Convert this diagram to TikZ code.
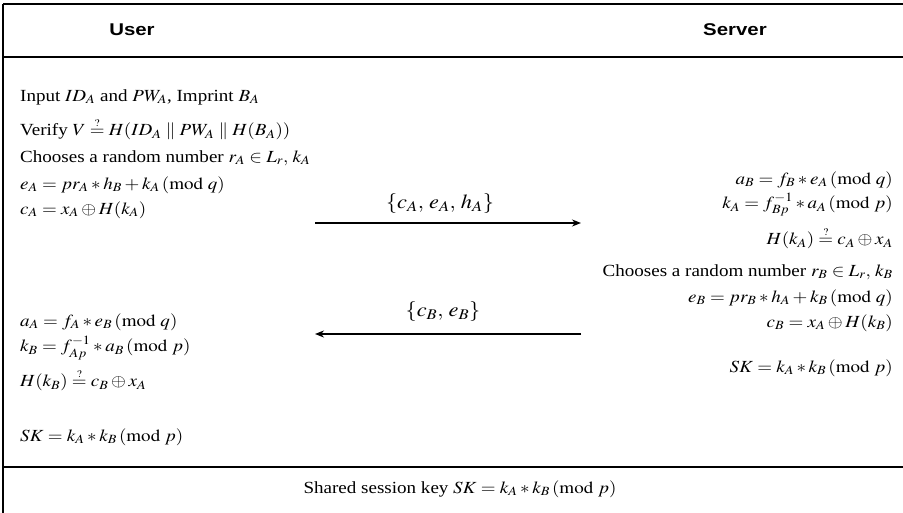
\documentclass[tikz,border=0pt]{standalone}
\usepackage{amsmath}
\usepackage{mathptmx}
\usepackage{graphicx}
\usepackage{fontspec}
\setmainfont{Liberation Serif}
\newfontfamily\headfont{Liberation Sans}
\usetikzlibrary{arrows.meta, positioning}

\newcommand{\mymod}[1]{\,(\mathrm{mod}\ #1)}
\newcommand{\qeq}{\overset{\scriptscriptstyle ?}{=}}
\newcommand{\wide}[1]{\scalebox{1.12}[1]{#1}}

\begin{document}
\begin{tikzpicture}[x=1pt, y=-1pt, >={Stealth[length=9pt, width=7pt]},
  lline/.style={anchor=west, inner sep=0pt, font=\fontsize{17}{20}\selectfont},
  rline/.style={anchor=east, inner sep=0pt, font=\fontsize{17}{20}\selectfont},
  msglabel/.style={inner sep=0pt, font=\fontsize{20}{24}\selectfont},
  head/.style={inner sep=0pt, font=\headfont\bfseries\fontsize{17}{20}\selectfont},
  msg/.style={->, line width=2.2pt}]
\useasboundingbox (0,0) rectangle (903,513);

% frame
\draw[line width=2pt] (3,4) -- (910,4);
\draw[line width=1.5pt] (3,4) -- (3,520);
\draw[line width=2pt] (3,57) -- (910,57);
\draw[line width=2pt] (3,467) -- (910,467);

% header
\node[head] (user) at (132,30) {\scalebox{1.2}[1]{User}};
\node[head] (server) at (735,30) {\scalebox{1.2}[1]{Server}};

% user side
\node[lline] (u1) at (20,97) {\wide{Input $ID_A$ and $PW_A$, Imprint $B_A$}};
\node[lline] (u2) at (20,129) {\wide{Verify $V \qeq H(ID_A \parallel PW_A \parallel H(B_A))$}};
\node[lline] (u3) at (20,158) {\wide{Chooses a random number $r_A \in L_r,\, k_A$}};
\node[lline] (u4) at (20,185) {\wide{$e_A = pr_A * h_B + k_A \mymod{q}$}};
\node[lline] (u5) at (20,210) {\wide{$c_A = x_A \oplus H(k_A)$}};

\node[lline] (u6) at (20,322) {\wide{$a_A = f_A * e_B \mymod{q}$}};
\node[lline] (u7) at (20,348) {\wide{$k_B = f_{Ap}^{-1} * a_B \mymod{p}$}};
\node[lline] (u8) at (20,380) {\wide{$H(k_B) \qeq c_B \oplus x_A$}};
\node[lline] (u9) at (20,437) {\wide{$SK = k_A * k_B \mymod{p}$}};

% server side
\node[rline] (s1) at (893,180) {\wide{$a_B = f_B * e_A \mymod{q}$}};
\node[rline] (s2) at (893,205) {\wide{$k_A = f_{Bp}^{-1} * a_A \mymod{p}$}};
\node[rline] (s3) at (893,238) {\wide{$H(k_A) \qeq c_A \oplus x_A$}};
\node[rline] (s4) at (893,272) {\wide{Chooses a random number $r_B \in L_r,\, k_B$}};
\node[rline] (s5) at (893,298) {\wide{$e_B = pr_B * h_A + k_B \mymod{q}$}};
\node[rline] (s6) at (893,323) {\wide{$c_B = x_A \oplus H(k_B)$}};
\node[rline] (s7) at (893,368) {\wide{$SK = k_A * k_B \mymod{p}$}};

% messages
\coordinate (m1l) at (315,223);
\coordinate (m1r) at (581,223);
\coordinate (m2l) at (315,334);
\coordinate (m2r) at (581,334);
\draw[msg] (m1l) -- (m1r);
\draw[msg] (m2r) -- (m2l);
\node[msglabel] (l1) at (440,204) {\wide{$\{c_A,\, e_A,\, h_A\}$}};
\node[msglabel] (l2) at (443,312) {\wide{$\{c_B,\, e_B\}$}};

% footer
\node[inner sep=0pt, font=\fontsize{17}{20}\selectfont] (key) at (460,489)
  {\wide{Shared session key $SK = k_A * k_B \mymod{p}$}};
\end{tikzpicture}
\end{document}
